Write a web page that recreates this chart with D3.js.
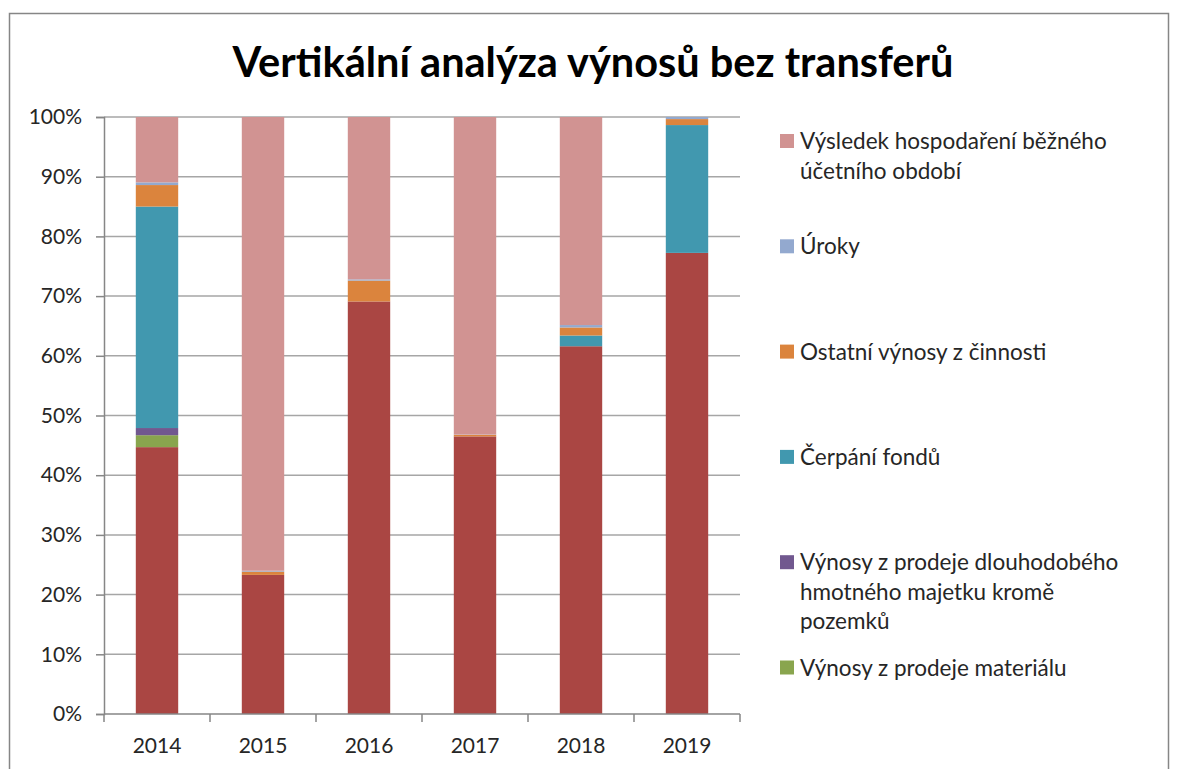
<!DOCTYPE html>
<html>
<head>
<meta charset="utf-8">
<script src="https://cdn.jsdelivr.net/npm/d3@7"></script>
<style>
  body { margin: 0; background: #fff; }
  svg { display: block; font-family: Lato, "Noto Sans", sans-serif; }
</style>
</head>
<body>
<svg width="1179" height="769"></svg>
<script>
// categories
var years = ["2014", "2015", "2016", "2017", "2018", "2019"];

// series values in % of total, bottom -> top
var sluzby     = [44.7, 23.3, 69.1, 46.5, 61.6, 77.2];
var material   = [2.0, 0, 0, 0, 0, 0];
var dlouhodoby = [1.2, 0, 0, 0, 0, 0];
var fondy      = [37.1, 0, 0, 0, 1.8, 21.4];
var ostatni    = [3.6, 0.55, 3.5, 0.25, 1.35, 1.0];
var uroky      = [0.45, 0.15, 0.2, 0.05, 0.4, 0.35];
var vysledek   = [10.95, 76.0, 27.2, 53.2, 34.85, 0.0];

var seriesKeys = ["sluzby", "material", "dlouhodoby", "fondy", "ostatni", "uroky", "vysledek"];
var seriesValues = [sluzby, material, dlouhodoby, fondy, ostatni, uroky, vysledek];
var seriesColors = ["#AA4643", "#89A54E", "#71588F", "#4198AF", "#DB843D", "#93A9CF", "#D19392"];

// legend labels (lines as they wrap in the picture); the bottom series is cut off there
var legendKeys = ["vysledek", "uroky", "ostatni", "fondy", "dlouhodoby", "material"];
var legendLabels = [
  ["Výsledek hospodaření běžného", "účetního období"],
  ["Úroky"],
  ["Ostatní výnosy z činnosti"],
  ["Čerpání fondů"],
  ["Výnosy z prodeje dlouhodobého", "hmotného majetku kromě", "pozemků"],
  ["Výnosy z prodeje materiálu"]
];

var yTicks = [0, 0.1, 0.2, 0.3, 0.4, 0.5, 0.6, 0.7, 0.8, 0.9, 1];

var table = years.map(function(y, i) {
  var row = { year: y };
  seriesKeys.forEach(function(k, j) { row[k] = seriesValues[j][i]; });
  return row;
});

var color = d3.scaleOrdinal().domain(seriesKeys).range(seriesColors);

var svg = d3.select("svg");

// outer chart border
svg.append("rect")
  .attr("x", 9.5).attr("y", 13.5)
  .attr("width", 1159).attr("height", 820)
  .attr("fill", "none")
  .attr("stroke", "#868686")
  .attr("stroke-width", 1.5);

svg.append("text")
  .attr("x", 593).attr("y", 77)
  .attr("text-anchor", "middle")
  .attr("font-size", 41.5)
  .attr("font-weight", "bold")
  .attr("fill", "#000")
  .text("Vertikální analýza výnosů bez transferů");

var plotLeft = 104, plotRight = 740, plotTop = 117, plotBottom = 714;

var x = d3.scaleBand()
  .domain(years)
  .range([plotLeft, plotRight])
  .paddingInner(0.6)
  .paddingOuter(0.3);

var y = d3.scaleLinear()
  .domain([0, 1])
  .range([plotBottom, plotTop]);

// gridlines
svg.append("g")
  .selectAll("line")
  .data(yTicks.slice(1))
  .enter()
  .append("line")
  .attr("x1", plotLeft).attr("x2", plotRight)
  .attr("y1", function(d) { return y(d); })
  .attr("y2", function(d) { return y(d); })
  .attr("stroke", "#a6a6a6")
  .attr("stroke-width", 1.5);

var stack = d3.stack()
  .keys(seriesKeys)
  .offset(d3.stackOffsetExpand);

var layers = stack(table);

svg.append("g")
  .selectAll("g")
  .data(layers)
  .enter()
  .append("g")
  .attr("fill", function(d) { return color(d.key); })
  .selectAll("rect")
  .data(function(d) { return d; })
  .enter()
  .append("rect")
  .attr("x", function(d) { return x(d.data.year); })
  .attr("width", x.bandwidth())
  .attr("y", function(d) { return y(d[1]); })
  .attr("height", function(d) { return y(d[0]) - y(d[1]); });

// y axis
var yAxis = svg.append("g")
  .attr("transform", "translate(" + plotLeft + ",0)")
  .call(d3.axisLeft(y).tickValues(yTicks).tickFormat(d3.format(".0%")).tickSize(8).tickPadding(14));

// x axis with ticks on category boundaries
var xAxis = svg.append("g")
  .attr("transform", "translate(0," + plotBottom + ")")
  .call(d3.axisBottom(x).tickSize(0).tickPadding(24));

var step = x.step();
xAxis.selectAll(".bound")
  .data(d3.range(years.length + 1))
  .enter()
  .append("line")
  .attr("class", "bound")
  .attr("x1", function(i) { return plotLeft + i * step; })
  .attr("x2", function(i) { return plotLeft + i * step; })
  .attr("y1", 0).attr("y2", 8)
  .attr("stroke", "#868686")
  .attr("stroke-width", 1.5);

[yAxis, xAxis].forEach(function(a) {
  a.select(".domain").attr("stroke", "#868686").attr("stroke-width", 1.5);
  a.selectAll(".tick line").attr("stroke", "#868686").attr("stroke-width", 1.5);
  a.selectAll("text")
    .attr("font-family", "Lato, 'Noto Sans', sans-serif")
    .attr("font-size", 21)
    .attr("fill", "#262626");
});
xAxis.select(".domain").attr("d", "M" + plotLeft + ",0H" + plotRight);

// legend
var legend = svg.append("g")
  .selectAll("g")
  .data(legendKeys)
  .enter()
  .append("g")
  .attr("transform", function(d, i) { return "translate(780," + (141 + i * 105.3) + ")"; });

legend.append("rect")
  .attr("x", 0).attr("y", -7)
  .attr("width", 14).attr("height", 14)
  .attr("fill", function(d) { return color(d); });

legend.append("text")
  .attr("x", 20)
  .attr("y", 8)
  .attr("font-size", 22.5)
  .attr("fill", "#262626")
  .selectAll("tspan")
  .data(function(d, i) { return legendLabels[i]; })
  .enter()
  .append("tspan")
  .attr("x", 20)
  .attr("dy", function(d, i) { return i === 0 ? 0 : 29.5; })
  .text(function(d) { return d; });
</script>
</body>
</html>
